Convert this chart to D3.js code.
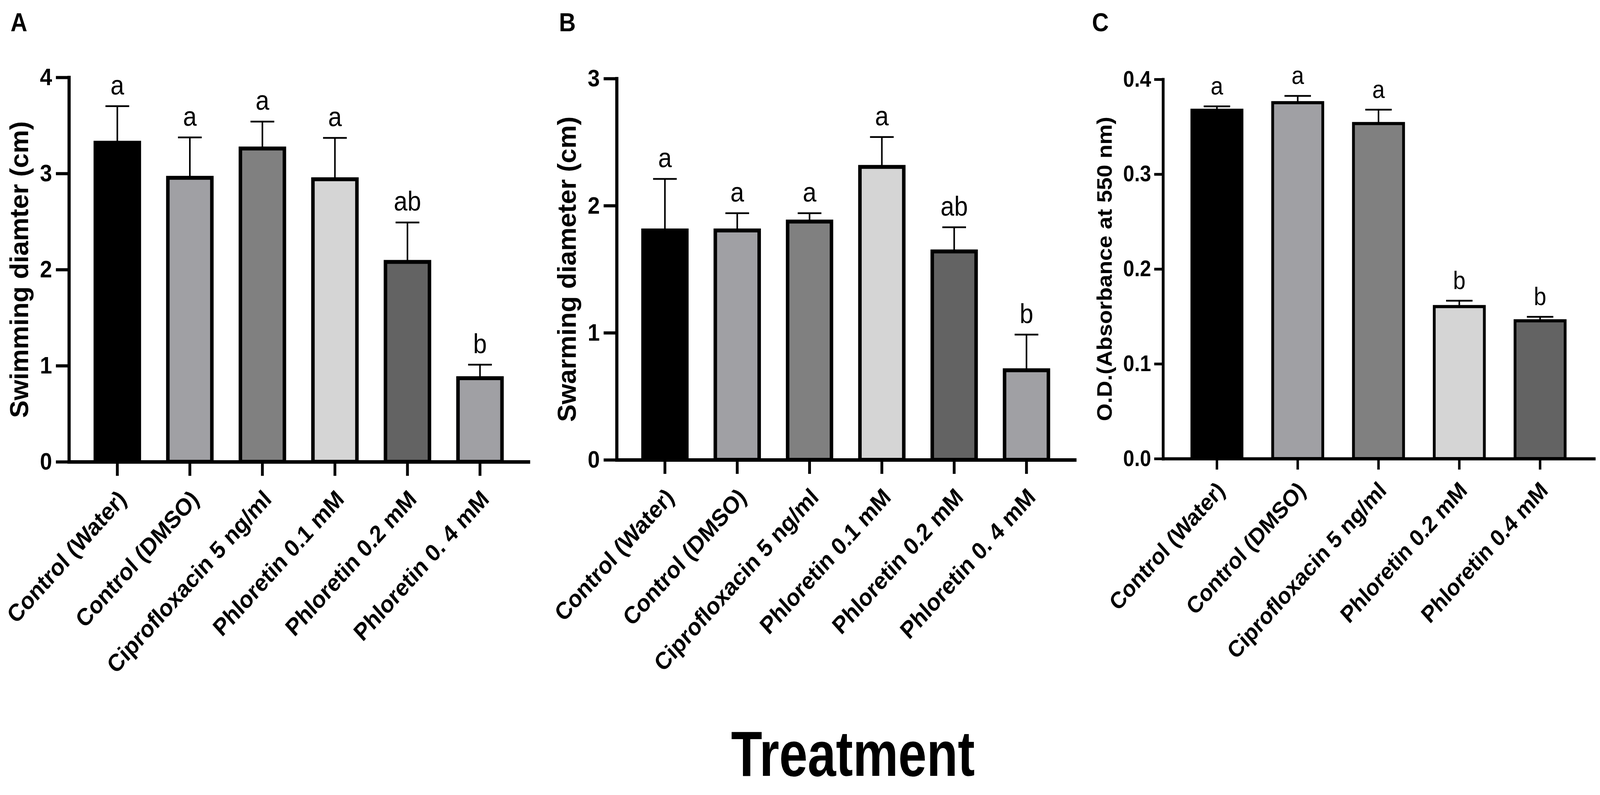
<!DOCTYPE html>
<html>
<head>
<meta charset="utf-8">
<script src="https://cdn.jsdelivr.net/npm/d3@7"></script>
<style>
  html, body { margin: 0; padding: 0; background: #fff; overflow: hidden; }
  #chart svg { display: block; width: 100vw; height: 100vh; }
  text { font-family: "Liberation Sans", Arial, sans-serif; fill: #000; }
</style>
</head>
<body>
<div id="chart"></div>
<script>
const w = 4551
const h = 2035

// categories
const catsAB = ['Control (Water)', 'Control (DMSO)', 'Ciprofloxacin 5 ng/ml', 'Phloretin 0.1 mM', 'Phloretin 0.2 mM', 'Phloretin 0. 4 mM']
const catsC = ['Control (Water)', 'Control (DMSO)', 'Ciprofloxacin 5 ng/ml', 'Phloretin 0.2 mM', 'Phloretin 0.4 mM']

// A: swimming diameter (cm)
const swimMean = [3.34, 2.975, 3.28, 2.96, 2.10, 0.89]
const swimErr = [0.36, 0.40, 0.26, 0.41, 0.39, 0.12]
const swimSig = ['a', 'a', 'a', 'a', 'ab', 'b']

// B: swarming diameter (cm)
const swarmMean = [1.82, 1.82, 1.89, 2.32, 1.655, 0.72]
const swarmErr = [0.39, 0.12, 0.05, 0.22, 0.175, 0.265]
const swarmSig = ['a', 'a', 'a', 'a', 'ab', 'b']

// C: O.D. at 550 nm
const odMean = [0.369, 0.377, 0.355, 0.162, 0.147]
const odErr = [0.0025, 0.0055, 0.013, 0.0045, 0.0025]
const odSig = ['a', 'a', 'a', 'b', 'b']

// y tick labels
const ticksA = [0, 1, 2, 3, 4]
const ticksB = [0, 1, 2, 3]
const ticksC = [0, 0.1, 0.2, 0.3, 0.4]

const fillsAB = ['#000000', '#a0a0a4', '#808080', '#d5d5d5', '#636363', '#a0a0a4']
const fillsC = ['#000000', '#a0a0a4', '#808080', '#d5d5d5', '#636363']

// drawn in the reference's 4551x2035 coordinates, stretched to the window
const svg = d3.select('#chart')
    .append('svg')
    .attr('viewBox', `0 0 ${w} ${h}`)
    .attr('preserveAspectRatio', 'none')

svg.append('rect').attr('width', w).attr('height', h).attr('fill', '#fff')

const panels = [
    {
        letter: 'A', lx: 30, cats: catsAB, mean: swimMean, err: swimErr, sig: swimSig, fills: fillsAB,
        x0: 196, x1: 1503, top: 198, base: 1182, max: 4, ticks: ticksA, fmt: d3.format('d'),
        title: 'Swimming diamter (cm)', titleX: 80, titleSize: 74, titleScale: 0.91,
        axisW: 9, barW: 10, ySize: 37, yPad: 11, xSize: 36, yFont: 62, xFont: 62, sigFont: 70,
        lblDx: 14, lblDy: 84
    },
    {
        letter: 'B', lx: 1590, cats: catsAB, mean: swarmMean, err: swarmErr, sig: swarmSig, fills: fillsAB,
        x0: 1754, x1: 3057, top: 201, base: 1177, max: 3, ticks: ticksB, fmt: d3.format('d'),
        title: 'Swarming diameter (cm)', titleX: 1638, titleSize: 74, titleScale: 0.91,
        axisW: 9, barW: 10, ySize: 37, yPad: 11, xSize: 36, yFont: 62, xFont: 62, sigFont: 70,
        lblDx: 14, lblDy: 84
    },
    {
        letter: 'C', lx: 3106, cats: catsC, mean: odMean, err: odErr, sig: odSig, fills: fillsC,
        x0: 3308, x1: 4534, top: 203, base: 1174, max: 0.4, ticks: ticksC, fmt: d3.format('.1f'),
        title: 'O.D.(Absorbance at 550 nm)', titleX: 3162, titleSize: 60, titleScale: 0.97,
        axisW: 8, barW: 8, ySize: 25, yPad: 9, xSize: 28, yFont: 57, xFont: 60, sigFont: 64,
        lblDx: 11, lblDy: 70
    }
]

panels.forEach(p => {
    const g = svg.append('g')

    const x = d3.scaleBand()
        .domain(p.cats)
        .range([p.x0, p.x1])
        .paddingInner(0.345)
        .paddingOuter(0.34)

    const y = d3.scaleLinear()
        .domain([0, p.max])
        .range([p.base, p.top])

    const bw = x.bandwidth()

    // error bars (line up from bar top, with cap)
    const eb = g.selectAll('.err')
        .data(p.cats)
        .enter()
        .append('g')
    eb.append('line')
        .attr('x1', d => x(d) + bw / 2)
        .attr('x2', d => x(d) + bw / 2)
        .attr('y1', (d, i) => y(p.mean[i]) + p.barW)
        .attr('y2', (d, i) => y(p.mean[i] + p.err[i]))
        .attr('stroke', '#000')
        .attr('stroke-width', 4.5)
    eb.append('line')
        .attr('x1', d => x(d) + bw / 4)
        .attr('x2', d => x(d) + bw * 3 / 4)
        .attr('y1', (d, i) => y(p.mean[i] + p.err[i]))
        .attr('y2', (d, i) => y(p.mean[i] + p.err[i]))
        .attr('stroke', '#000')
        .attr('stroke-width', 4.5)

    // bars
    g.selectAll('.bar')
        .data(p.cats)
        .enter()
        .append('rect')
        .attr('x', d => x(d) + p.barW / 2)
        .attr('width', bw - p.barW)
        .attr('y', (d, i) => y(p.mean[i]) + p.barW / 2)
        .attr('height', (d, i) => p.base - y(p.mean[i]) - p.barW / 2)
        .attr('fill', (d, i) => p.fills[i])
        .attr('stroke', '#000')
        .attr('stroke-width', p.barW)

    // significance letters
    g.selectAll('.sig')
        .data(p.cats)
        .enter()
        .append('text')
        .attr('x', d => x(d) + bw / 2)
        .attr('y', (d, i) => y(p.mean[i] + p.err[i]) - 30)
        .attr('text-anchor', 'middle')
        .attr('font-size', p.sigFont)
        .text((d, i) => p.sig[i])

    // y axis
    const yAxis = d3.axisLeft(y)
        .tickValues(p.ticks)
        .tickFormat(p.fmt)
        .tickSize(p.ySize)
        .tickSizeOuter(0)
        .tickPadding(p.yPad)
    const ya = g.append('g')
        .attr('transform', `translate(${p.x0},0)`)
        .call(yAxis)
    ya.select('.domain').attr('stroke-width', p.axisW).attr('stroke-linecap', 'square')
    ya.selectAll('.tick line').attr('stroke-width', p.axisW - 1)
    ya.selectAll('.tick text')
        .attr('font-size', p.yFont)
        .attr('font-weight', 'bold')
        .attr('font-family', '"Liberation Sans", Arial, sans-serif')

    // x axis
    const xAxis = d3.axisBottom(x)
        .tickSize(p.xSize)
        .tickSizeOuter(0)
    const xa = g.append('g')
        .attr('transform', `translate(0,${p.base})`)
        .call(xAxis)
    xa.select('.domain').attr('stroke-width', p.axisW).attr('stroke-linecap', 'square')
    xa.selectAll('.tick line').attr('stroke-width', p.axisW - 1)
    xa.selectAll('.tick text')
        .attr('font-size', p.xFont)
        .attr('font-weight', 'bold')
        .attr('font-family', '"Liberation Sans", Arial, sans-serif')
        .attr('text-anchor', 'end')
        .attr('x', p.lblDx)
        .attr('y', p.lblDy)
        .attr('dy', '0.35em')
        .attr('transform', `rotate(-45, ${p.lblDx}, ${p.lblDy})`)

    // y title
    g.append('text')
        .attr('transform', `translate(${p.titleX},${(p.top + p.base) / 2}) rotate(-90) scale(${p.titleScale},1)`)
        .attr('text-anchor', 'middle')
        .attr('font-size', p.titleSize)
        .attr('font-weight', 'bold')
        .text(p.title)

    // panel letter
    g.append('text')
        .attr('x', p.lx)
        .attr('y', 80)
        .attr('font-size', 66)
        .attr('font-weight', 'bold')
        .text(p.letter)
})

svg.append('text')
    .attr('transform', 'translate(2426,1986) scale(0.89,1)')
    .attr('text-anchor', 'middle')
    .attr('font-size', 163)
    .attr('font-weight', 'bold')
    .text('Treatment')
</script>
</body>
</html>
